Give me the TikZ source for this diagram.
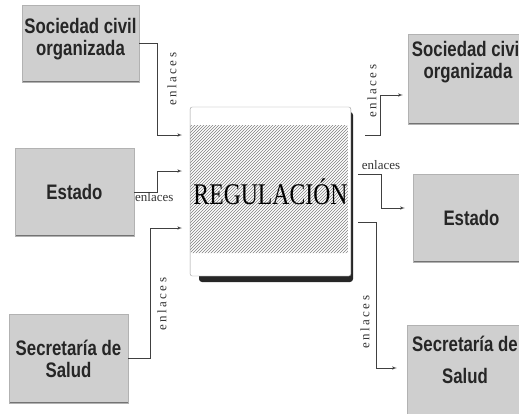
\documentclass[tikz,border=0pt]{standalone}
\usepackage{fontspec}
\setmainfont{Liberation Serif}
\newfontfamily\cajafont{Liberation Sans}
\usepackage{tikz}
\usetikzlibrary{positioning,patterns,arrows}

\newcommand{\angosto}[1]{\scalebox{0.8}[1]{#1}}

\tikzset{
  entidad/.style={fill=black!19, draw=black!30, line width=0.4pt,
    align=center, text=black!85, inner sep=0pt,
    font=\cajafont\bfseries\fontsize{21}{22}\selectfont,
    path picture={\draw[black!55,line width=1.8pt]
      (path picture bounding box.south west) -- (path picture bounding box.south east);}},
  enlace/.style={->, black!75, line width=0.6pt},
  etiqueta/.style={font=\fontsize{13}{13}\selectfont, text=black!80, inner sep=1pt},
  vertical/.style={etiqueta, rotate=90, font=\fontsize{13}{13}\selectfont\addfontfeatures{LetterSpace=18}},
}

\begin{document}
\begin{tikzpicture}[x=1pt,y=-1pt,>=latex']
  \useasboundingbox (0,0) rectangle (519,413);
  \clip (0,0) rectangle (519,413);

  % cajas de la izquierda
  \node[entidad, minimum width=117pt, minimum height=77pt] (socL) at (80.5,43.5)
    {\angosto{Sociedad civil}\\\angosto{organizada}\\[-8pt]};
  \node[entidad, minimum width=119pt, minimum height=88pt] (estL) at (74.5,192) {\angosto{Estado}};
  \node[entidad, minimum width=119pt, minimum height=89pt] (secL) at (68.5,358.5)
    {\angosto{Secretaría de}\\\angosto{Salud}};

  % caja central
  \fill[black!85, rounded corners=3pt] (199,112) rectangle (353,282);
  \node[draw=black!40, fill=white, rounded corners=2pt, minimum width=155pt, minimum height=169pt,
    path picture={\fill[pattern=north east lines, pattern color=black!50]
      ([yshift=-18pt]path picture bounding box.north west) rectangle
      ([yshift=23pt,xshift=-3pt]path picture bounding box.south east);}]
    (reg) at (270.5,191.5) {\fontsize{30}{30}\selectfont\scalebox{0.79}[1]{REGULACIÓN}};

  % cajas de la derecha
  \node[entidad, minimum width=120pt, minimum height=90pt] (socR) at (468,79)
    {\angosto{Sociedad civil}\\\angosto{organizada}\\[16pt]};
  \node[entidad, minimum width=117pt, minimum height=88pt] (estR) at (471.5,218) {\angosto{Estado}};
  \node[entidad, minimum width=116pt, minimum height=90pt] (secR) at (465,370)
    {\angosto{Secretaría de}\\[10pt]\angosto{Salud}\\[-2pt]};

  % puntos de llegada y salida
  \coordinate (inA) at (182,135);
  \coordinate (inB) at (182,171);
  \coordinate (inC) at (182,228);
  \coordinate (outA) at (365,135);
  \coordinate (outB) at (358,174);
  \coordinate (outC) at (358,222);

  % enlaces hacia la regulacion
  \draw[enlace] (socL.east) -| ([xshift=-25pt]inA) -- (inA);
  \draw[enlace] (estL.east) -| ([xshift=-25pt]inB) -- (inB);
  \draw[enlace] (secL.east) -| ([xshift=-32pt]inC) -- (inC);

  % enlaces hacia fuera
  \draw[enlace] (outA) -- ++(15,0) |- ([xshift=-5pt]socR.west |- 0,95);
  \draw[enlace] (outB) -- ++(23,0) |- ([xshift=-8pt]estR.west |- 0,208);
  \draw[enlace] (outC) -- ++(18,0) |- ([xshift=-10pt]secR.west |- 0,368);

  % etiquetas
  \node[vertical] (e1) at (172,79) {enlaces};
  \node[etiqueta, anchor=north west] (e2) at (134,191) {enlaces};
  \node[vertical] (e3) at (162,304) {enlaces};
  \node[vertical] (e4) at (372,91) {enlaces};
  \node[etiqueta] (e5) at (381,165) {enlaces};
  \node[vertical] (e6) at (365,322) {enlaces};
\end{tikzpicture}
\end{document}
